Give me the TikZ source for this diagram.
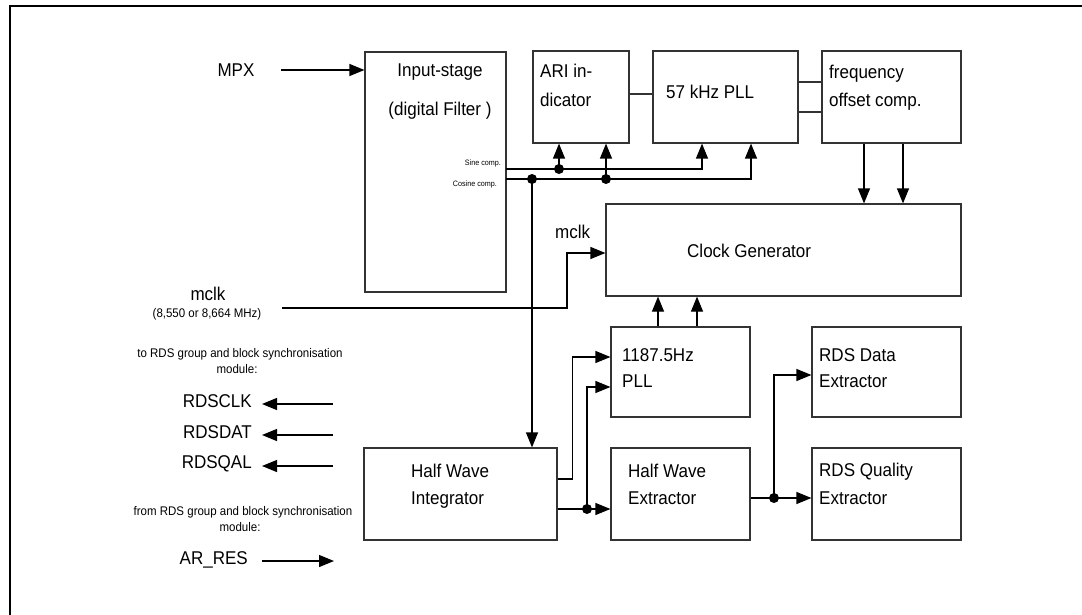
\documentclass[tikz,border=0pt]{standalone}
\usepackage{fontspec}
\setmainfont{Liberation Sans}[FakeStretch=0.92]
\usetikzlibrary{arrows.meta}

\begin{document}
\begin{tikzpicture}[x=1pt,y=-1pt,
	blk/.style={draw=black!80,line width=1.2pt,inner sep=0pt},
	txt/.style={inner sep=0pt,font=\fontsize{18.5}{21}\selectfont},
	note/.style={inner sep=0pt,font=\fontsize{12.5}{14}\selectfont},
	tiny/.style={inner sep=0pt,font=\fontsize{7.8}{9}\selectfont},
	ln/.style={line width=1.2pt,draw=black!80},
	arr/.style={line width=1.2pt,-{Triangle[length=15pt,width=12pt]}}]
	\useasboundingbox (0,0) rectangle (1082,615);
	\draw[line width=2.5pt] (10,615) -- (10,6) -- (1082,6);
	
	% blocks
	\node[blk,minimum width=141pt,minimum height=240pt] (inp) at (435.5,172) {};
	\node[blk,minimum width=96pt,minimum height=92pt] (ari) at (581,97) {};
	\node[blk,minimum width=145pt,minimum height=92pt] (pll) at (725.5,97) {};
	\node[blk,minimum width=139pt,minimum height=92pt] (foc) at (891.5,97) {};
	\node[blk,minimum width=355pt,minimum height=92pt] (clkgen) at (783.5,250) {};
	\node[blk,minimum width=139pt,minimum height=90pt] (rdspll) at (680.5,372) {};
	\node[blk,minimum width=193pt,minimum height=92pt] (hwi) at (460.5,494) {};
	\node[blk,minimum width=139pt,minimum height=92pt] (hwe) at (680.5,494) {};
	\node[blk,minimum width=149pt,minimum height=90pt] (rdsd) at (886.5,372) {};
	\node[blk,minimum width=149pt,minimum height=92pt] (rdsq) at (886.5,494) {};
	
	% block texts
	\node[txt,anchor=base] (inpa) at (440,77) {Input-stage};
	\node[txt,anchor=base] (inpb) at (440,116) {(digital Filter )};
	\node[tiny,anchor=base east] (sinel) at (501,165) {Sine comp.};
	\node[tiny,anchor=base east] (cosl) at (497,186) {Cosine comp.};
	\node[txt,anchor=base west] (aria) at (540,78) {ARI in-};
	\node[txt,anchor=base west] (arib) at (540,107) {dicator};
	\node[txt,anchor=base west] (plla) at (666,99) {57 kHz PLL};
	\node[txt,anchor=base west] (foca) at (829,79) {frequency};
	\node[txt,anchor=base west] (focb) at (829,107) {offset comp.};
	\node[txt,anchor=base west] (clka) at (687,257) {Clock Generator};
	\node[txt,anchor=base west] (mclkc) at (555,238) {mclk};
	\node[txt,anchor=base west] (rdsplla) at (622,361) {1187.5Hz};
	\node[txt,anchor=base west] (rdspllb) at (622,387) {PLL};
	\node[txt,anchor=base west] (hwia) at (411,477) {Half Wave};
	\node[txt,anchor=base west] (hwib) at (411,504) {Integrator};
	\node[txt,anchor=base west] (hwea) at (628,477) {Half Wave};
	\node[txt,anchor=base west] (hweb) at (628,504) {Extractor};
	\node[txt,anchor=base west] (rdsda) at (819,361) {RDS Data};
	\node[txt,anchor=base west] (rdsdb) at (819,387) {Extractor};
	\node[txt,anchor=base west] (rdsqa) at (819,476) {RDS Quality};
	\node[txt,anchor=base west] (rdsqb) at (819,504) {Extractor};
	
	% left side
	\node[txt,anchor=base] (mpx) at (236,77) {MPX};
	\node[txt,anchor=base] (mclk) at (208,300) {mclk};
	\node[note,anchor=base] (mclkf) at (207,317) {(8,550 or 8,664 MHz)};
	\node[note,anchor=base] (tords) at (240,357) {to RDS group and block synchronisation};
	\node[note,anchor=base] (tomod) at (237,373) {module:};
	\node[txt,anchor=base east] (rdsclk) at (252,407) {RDSCLK};
	\node[txt,anchor=base east] (rdsdat) at (252,438) {RDSDAT};
	\node[txt,anchor=base east] (rdsqal) at (252,468) {RDSQAL};
	\node[note,anchor=base] (fromrds) at (243,515) {from RDS group and block synchronisation};
	\node[note,anchor=base] (frommod) at (240,531) {module:};
	\node[txt,anchor=base east] (arres) at (248,564) {AR\_RES};
	
	% junctions
	\coordinate (mpxsrc) at (281,70);
	\coordinate (sineout) at (506,169);
	\coordinate (cosout) at (506,179);
	\coordinate (dS) at (559,169);
	\coordinate (dC1) at (532,179);
	\coordinate (dC2) at (606,179);
	\coordinate (mclksrc) at (282,308);
	\coordinate (mclkbend) at (567,308);
	\coordinate (f1) at ([xshift=-27.5pt]foc.south);
	\coordinate (f2) at ([xshift=11.5pt]foc.south);
	\coordinate (p1) at ([xshift=-22.5pt]rdspll.north);
	\coordinate (p2) at ([xshift=16.5pt]rdspll.north);
	\coordinate (dI) at (587,509);
	\coordinate (dE) at (774,498);
	\coordinate (clksrc) at (333,404);
	\coordinate (datsrc) at (333,435);
	\coordinate (qalsrc) at (333,466);
	\coordinate (arrtip) at (334,561);
	
	% connectors
	\draw[arr] (mpxsrc) -- (mpxsrc -| inp.west);
	\draw[arr] (sineout) -| ([xshift=-23.5pt]pll.south);
	\draw[arr] (cosout) -| ([xshift=25.5pt]pll.south);
	\draw[arr] (dS) -- (dS |- ari.south);
	\draw[arr] (dC2) -- (dC2 |- ari.south);
	\draw[arr] (dC1) -- (dC1 |- hwi.north);
	\draw[ln] ([yshift=3pt]ari.east) -- ([yshift=3pt]pll.west);
	\draw[ln] ([yshift=15pt]pll.east) -- ([yshift=15pt]foc.west);
	\draw[ln] ([yshift=-15pt]pll.east) -- ([yshift=-15pt]foc.west);
	\draw[arr] (f1) -- (f1 |- clkgen.north);
	\draw[arr] (f2) -- (f2 |- clkgen.north);
	\draw[arr] (p1) -- (p1 |- clkgen.south);
	\draw[arr] (p2) -- (p2 |- clkgen.south);
	\draw[arr] (mclksrc) -- (mclkbend) |- ([yshift=-3pt]clkgen.west);
	\draw[arr] ([yshift=15pt]hwi.east) -- ++(15,0) |- ([yshift=15pt]rdspll.west);
	\draw[arr] ([yshift=-15pt]hwi.east) -- ([yshift=-15pt]hwe.west);
	\draw[arr] (dI) |- ([yshift=-15pt]rdspll.west);
	\draw[arr] ([yshift=-4pt]hwe.east) -- ([yshift=-4pt]rdsq.west);
	\draw[arr] (dE) |- ([yshift=-3pt]rdsd.west);
	\draw[arr,shorten >=10pt] (clksrc) -- (clksrc -| rdsclk.east);
	\draw[arr,shorten >=10pt] (datsrc) -- (datsrc -| rdsdat.east);
	\draw[arr,shorten >=10pt] (qalsrc) -- (qalsrc -| rdsqal.east);
	\draw[arr,shorten <=14pt] (arrtip -| arres.east) -- (arrtip);
	
	% dots
	\foreach \d in {dS,dC1,dC2,dI,dE}
		\fill (\d) circle (5pt);
\end{tikzpicture}
\end{document}
